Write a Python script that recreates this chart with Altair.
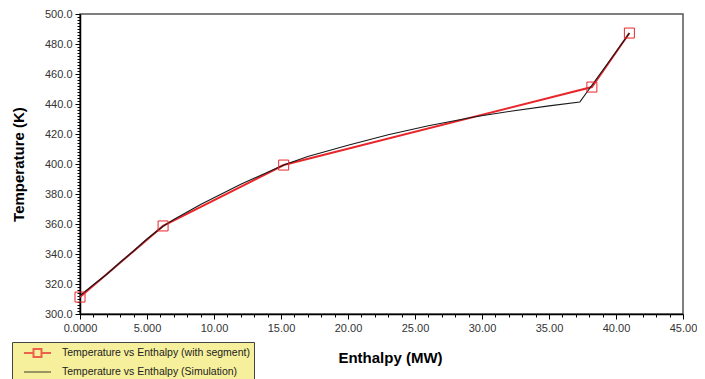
import altair as alt
import pandas as pd

# ---- data ----
seg_h = [0.0, 6.2, 15.2, 38.2, 41.0]
seg_t = [311.3, 358.7, 399.3, 451.3, 487.3]

sim_h = [0.0, 1.0, 2.0, 3.0, 4.0, 5.0, 6.2, 7.0, 8.0, 9.0, 10.0, 12.0, 14.0,
         15.2, 17.0, 20.0, 23.0, 26.0, 29.5, 32.0, 35.0, 37.3, 38.2, 39.5, 41.0]
sim_t = [312.3, 319.5, 326.5, 334.5, 342.0, 350.0, 358.5, 363.0, 368.0, 373.0,
         377.5, 386.5, 394.5, 399.3, 405.0, 412.5, 419.5, 425.5, 431.5, 435.0,
         438.8, 441.3, 452.5, 468.5, 487.3]

x_ticks = list(range(0, 46))          # labelled every 5
y_ticks = list(range(300, 501, 2))    # labelled every 20

SEG = "Temperature vs Enthalpy (with segment)"
SIM = "Temperature vs Enthalpy (Simulation)"

seg = pd.DataFrame({"h": seg_h, "t": seg_t, "series": SEG})
sim = pd.DataFrame({"h": sim_h, "t": sim_t, "series": SIM})
both = pd.concat([seg, sim], ignore_index=True)

FONT = "Liberation Sans"
RED = "#e8262b"
BLACK = "#1a1a1a"

xscale = alt.Scale(domain=[0, 45], nice=False, zero=False)
yscale = alt.Scale(domain=[300, 500], nice=False, zero=False)

x_axis = alt.Axis(
    values=x_ticks, grid=False, title="Enthalpy (MW)",
    labelExpr="datum.value % 5 != 0 ? '' : (datum.value == 0 ? '0.0000' : (datum.value < 10 ? format(datum.value, '.3f') : format(datum.value, '.2f')))",
    labelFont=FONT, labelFontSize=11, labelColor="#333333", labelPadding=3,
    labelOverlap=False, labelFlush=False,
    tickSize={"condition": {"test": "datum.value % 5 == 0", "value": 5}, "value": 3},
    tickColor="#000000", tickWidth=1,
    domainColor="#000000", domainWidth=1.5,
    titleFont=FONT, titleFontSize=15, titleFontWeight="bold", titleColor="#000000",
    titleX=310, titleY=43, titleBaseline="middle", titleAlign="center",
)
y_axis = alt.Axis(
    values=y_ticks, grid=False, title="Temperature (K)",
    labelExpr="datum.value % 20 != 0 ? '' : format(datum.value, '.1f')",
    labelFont=FONT, labelFontSize=11, labelColor="#333333", labelPadding=3,
    labelOverlap=False, labelFlush=False,
    tickSize={"condition": {"test": "datum.value % 20 == 0", "value": 5}, "value": 3},
    tickColor="#000000", tickWidth=1,
    domainColor="#000000", domainWidth=1.5,
    titleFont=FONT, titleFontSize=15, titleFontWeight="bold", titleColor="#000000",
    titleX=-62, titleY=150, titleBaseline="middle", titleAlign="center", titleAngle=-90,
)

SYM_SEG = "M0.17,0H1.75M3.08,0H4.67M1.75,-0.67H3.08V0.67H1.75Z"
SYM_SIM = "M0.17,0H4.67"

legend = alt.Legend(
    orient="none", legendX=-68, legendY=328, title=None,
    fillColor="#f6f09c", strokeColor="#444444", padding=4,
    labelFont=FONT, labelFontSize=10.5, labelColor="#222222", labelOffset=32,
    labelLimit=500,
    labelExpr="datum.label + '\u00a0\u00a0\u00a0\u00a0\u00a0\u00a0\u00a0\u00a0\u00a0\u00a0'",
    symbolSize=144, symbolStrokeWidth=1.5, rowPadding=3,
)

X = alt.X("h:Q", scale=xscale, axis=x_axis)
Y = alt.Y("t:Q", scale=yscale, axis=y_axis)

lines = alt.Chart(both).mark_line().encode(
    x=X, y=Y,
    color=alt.Color("series:N", scale=alt.Scale(domain=[SEG, SIM], range=[RED, BLACK]),
                    legend=legend),
    strokeWidth=alt.StrokeWidth("series:N",
                                scale=alt.Scale(domain=[SEG, SIM], range=[2.0, 1.2]),
                                legend=None),
    order=alt.Order("h:Q"),
)

# invisible layer that only supplies the legend symbol shapes
legend_helper = alt.Chart(both).mark_point(filled=False, size=0).encode(
    x=X, y=Y,
    stroke=alt.Stroke("series:N", scale=alt.Scale(domain=[SEG, SIM], range=[RED, BLACK]),
                      legend=legend),
    shape=alt.Shape("series:N", scale=alt.Scale(domain=[SEG, SIM], range=[SYM_SEG, SYM_SIM]),
                    legend=legend),
)

points = alt.Chart(seg).mark_point(shape="square", size=100, filled=False,
                                   color=RED, strokeWidth=1, opacity=1).encode(
    x=X, y=Y,
)

chart = alt.layer(lines, points, legend_helper).properties(
    width=603, height=300,
    autosize=alt.AutoSizeParams(type="none"),
    padding={"left": 72, "top": 6, "right": 14, "bottom": 65},
    background="white",
).configure_view(stroke="#555555", strokeWidth=1.5)

chart.save("out.html", embed_options={"renderer": "svg", "actions": False})
